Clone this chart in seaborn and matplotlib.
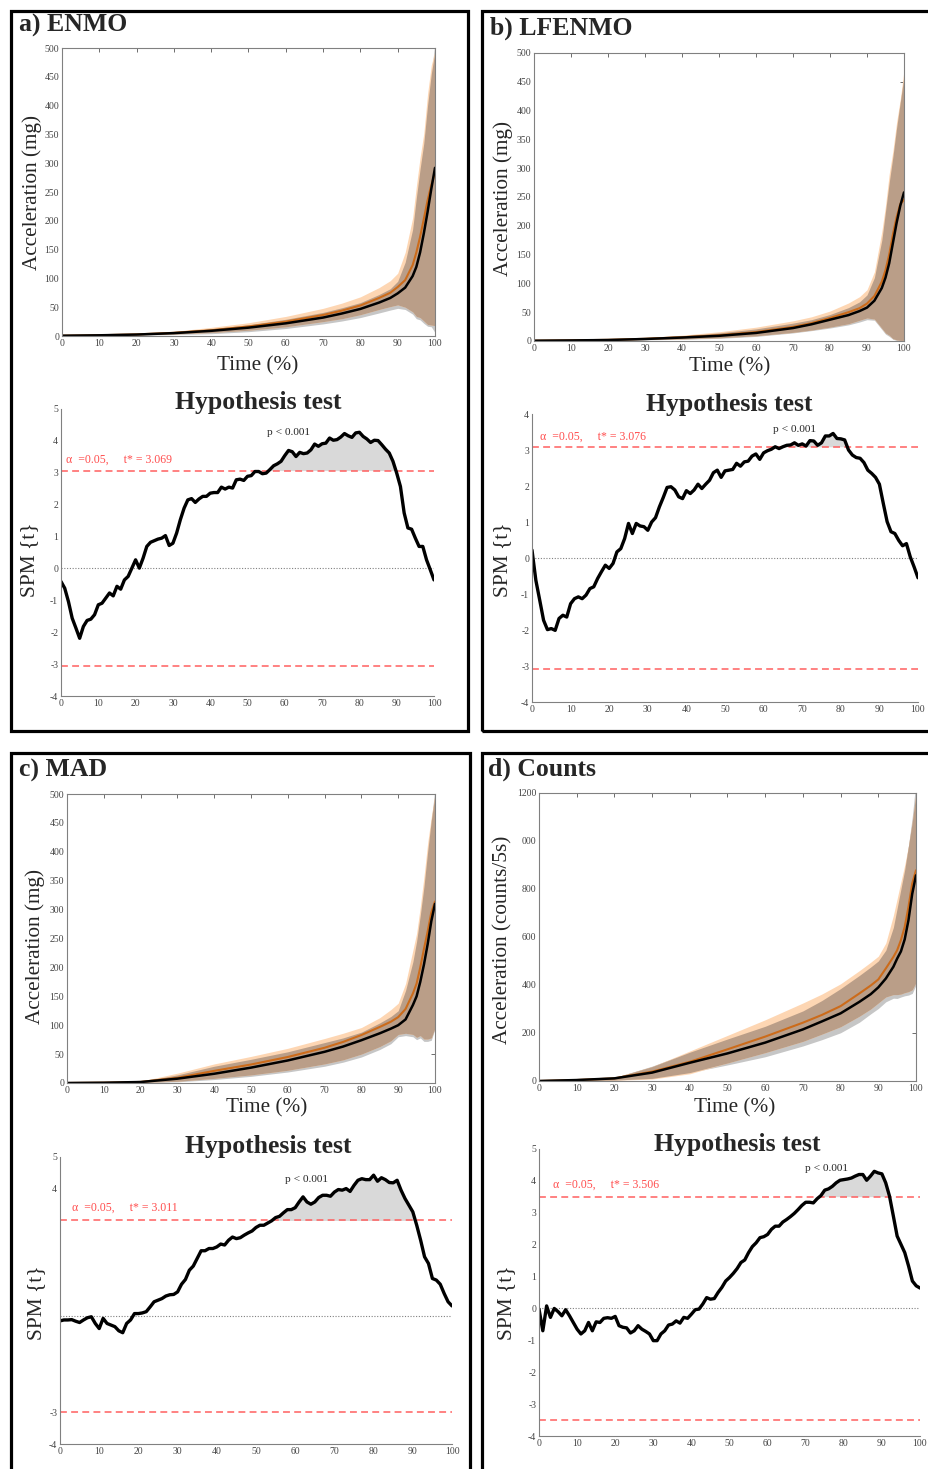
import numpy as np
import matplotlib
matplotlib.use('Agg')
import matplotlib.pyplot as plt
from matplotlib.patches import Rectangle
import seaborn as sns

# time grid used for the mean +/- band curves (% of bout)
time_top = [0, 10, 20, 30, 40, 50, 60, 70, 75, 80, 85, 88, 90, 92, 94, 95, 96, 97, 98, 99, 100]
time_spm = list(range(101))

# a) ENMO (mg)
enmo_black = [0.5, 1.2, 2.5, 5, 9, 14.5, 22, 32, 39, 47, 58, 66, 74, 84, 104, 120, 145, 178, 215, 255, 292]
enmo_black_lo = [0.2, 0.6, 1.5, 2.5, 4, 7.5, 13, 21, 26, 32, 40, 45, 48, 46, 38, 30, 28, 22, 17, 16, 6]
enmo_black_hi = [0.8, 1.8, 3.5, 7, 12.5, 19.5, 29, 41, 49, 58, 72, 82, 95, 128, 185, 240, 290, 335, 400, 455, 510]
enmo_orange = [0.5, 1.3, 2.8, 5.5, 10, 16.5, 25, 36.5, 44, 53, 66, 75, 85, 97, 123, 145, 172, 203, 235, 262, 283]
enmo_orange_lo = [0.3, 0.8, 2, 3.5, 6, 10, 16, 25, 30, 37, 46, 51, 54, 50, 42, 34, 32, 26, 20, 19, 18]
enmo_orange_hi = [1, 2, 4, 8, 15, 23, 34, 48, 57, 68, 84, 96, 109, 145, 205, 260, 310, 352, 420, 470, 495]

# b) LFENMO (mg)
lfenmo_black = [0.5, 1, 1.7, 3.5, 6, 9, 14, 22.5, 29, 37, 45, 52, 58, 70, 92, 110, 135, 170, 205, 235, 258]
lfenmo_black_lo = [0.2, 0.5, 1, 2, 3, 4.6, 8, 14, 18, 22.5, 28, 33, 37, 36, 20, 12, 8, 3, 1, 1, 1]
lfenmo_black_hi = [0.8, 1.5, 2.7, 5.5, 9, 14, 21, 31, 37, 46, 58, 68, 80, 110, 175, 225, 275, 320, 370, 415, 460]
lfenmo_orange = [0.5, 1.1, 2, 3.8, 6.5, 10, 15.5, 24.5, 31, 40, 50, 57, 65, 78, 103, 123, 150, 185, 215, 238, 245]
lfenmo_orange_lo = [0.3, 0.6, 1.2, 2.5, 3.5, 5.5, 9, 15, 19, 24, 30, 36, 40, 38, 22, 14, 10, 4, 2, 1, 1]
lfenmo_orange_hi = [1, 1.8, 3, 6, 10, 16, 24, 35, 42, 52, 66, 77, 89, 120, 190, 235, 290, 330, 380, 420, 470]

# c) MAD (mg)
mad_black = [0, 0.5, 1.7, 7.5, 16, 26.6, 39, 54, 63, 74, 86, 94, 100, 110, 135, 150, 175, 205, 240, 280, 310]
mad_black_lo = [0, 0.2, 0.8, 2, 6, 11.5, 19, 29, 36, 45, 58, 68, 80, 82, 80, 75, 78, 72, 72, 74, 94]
mad_black_hi = [0.2, 0.6, 2.5, 14, 29, 41, 54, 70, 78, 88, 104, 115, 125, 160, 210, 245, 290, 340, 400, 455, 510]
mad_orange = [0, 0.5, 1.8, 9, 21, 32, 45, 61, 71, 83, 97, 106, 114, 128, 155, 172, 200, 232, 262, 295, 314]
mad_orange_lo = [0, 0.3, 1, 3, 8, 14, 22, 33, 40, 50, 63, 73, 84, 86, 84, 79, 82, 76, 76, 78, 95]
mad_orange_hi = [0.3, 0.8, 3, 17, 33, 46, 60, 77, 86, 96, 113, 127, 138, 172, 230, 259, 305, 357, 415, 461, 500]

# d) Counts (counts/5s)
counts_black = [0, 4, 11, 35, 76, 115, 160, 215, 248, 282, 330, 362, 390, 427, 476, 510, 540, 590, 670, 780, 857]
counts_black_lo = [0, 1, 4, 11, 35, 67, 101, 146, 172, 201, 245, 280, 302, 330, 345, 344, 350, 355, 358, 365, 400]
counts_black_hi = [0, 5, 14, 62, 120, 175, 228, 292, 335, 385, 440, 475, 500, 545, 640, 720, 800, 880, 980, 1100, 1250]
counts_orange = [0, 4, 11, 39, 80, 132, 185, 243, 275, 312, 365, 398, 423, 469, 517, 545, 587, 642, 725, 823, 878]
counts_orange_lo = [0, 0.5, 3, 8, 30, 75, 118, 165, 195, 226, 270, 300, 325, 350, 360, 360, 362, 368, 372, 380, 410]
counts_orange_hi = [0, 5, 15, 60, 125, 190, 255, 325, 362, 405, 460, 495, 520, 575, 690, 760, 830, 900, 980, 1080, 1200]

# SPM{t} curves, one value per 1 % of time
enmo_spm = [-0.41, -0.62, -1.04, -1.56, -1.87, -2.19, -1.82, -1.63, -1.59, -1.45, -1.14,
            -1.09, -0.93, -0.77, -0.86, -0.56, -0.65, -0.36, -0.25, 0.01, 0.27,
            0.01, 0.32, 0.69, 0.82, 0.87, 0.92, 0.95, 1.03, 0.72, 0.79,
            1.11, 1.53, 1.89, 2.15, 2.19, 2.07, 2.18, 2.26, 2.26, 2.36,
            2.38, 2.38, 2.55, 2.49, 2.55, 2.52, 2.78, 2.80, 2.76, 2.89,
            2.91, 3.04, 3.04, 2.97, 2.99, 3.10, 3.22, 3.28, 3.36, 3.54,
            3.70, 3.66, 3.51, 3.64, 3.60, 3.62, 3.72, 3.90, 3.83, 3.91,
            3.93, 4.09, 4.02, 4.04, 4.12, 4.23, 4.16, 4.11, 4.25, 4.27,
            4.14, 4.06, 3.95, 4.02, 4.01, 3.88, 3.74, 3.62, 3.36, 2.99,
            2.57, 1.74, 1.27, 1.23, 0.95, 0.69, 0.69, 0.27, -0.04, -0.36]
lfenmo_spm = [0.22, -0.62, -1.17, -1.73, -1.99, -1.96, -2.01, -1.68, -1.59, -1.64, -1.27,
              -1.13, -1.08, -1.13, -1.03, -0.85, -0.80, -0.57, -0.38, -0.20, -0.29,
              -0.15, 0.17, 0.26, 0.54, 0.96, 0.68, 0.96, 0.89, 0.87, 0.77,
              1.00, 1.12, 1.42, 1.68, 1.96, 1.98, 1.89, 1.70, 1.65, 1.87,
              1.79, 1.89, 2.05, 1.93, 2.05, 2.16, 2.37, 2.44, 2.24, 2.42,
              2.44, 2.46, 2.63, 2.55, 2.67, 2.69, 2.83, 2.89, 2.74, 2.92,
              2.98, 3.02, 3.09, 3.04, 3.09, 3.13, 3.14, 3.20, 3.13, 3.17,
              3.11, 3.26, 3.25, 3.13, 3.20, 3.39, 3.39, 3.46, 3.32, 3.31,
              3.28, 3.00, 2.86, 2.79, 2.77, 2.65, 2.44, 2.35, 2.24, 2.05,
              1.52, 1.01, 0.73, 0.68, 0.49, 0.34, 0.40, 0.03, -0.25, -0.55]
mad_spm = [-0.14, -0.11, -0.11, -0.10, -0.15, -0.19, -0.11, -0.04, -0.01, -0.22, -0.38,
           -0.06, -0.22, -0.27, -0.32, -0.45, -0.51, -0.22, -0.11, 0.09, 0.09,
           0.11, 0.15, 0.30, 0.46, 0.51, 0.56, 0.64, 0.68, 0.69, 0.77,
           1.01, 1.16, 1.45, 1.58, 1.82, 2.06, 2.06, 2.13, 2.13, 2.18,
           2.27, 2.24, 2.39, 2.49, 2.44, 2.47, 2.55, 2.62, 2.68, 2.79,
           2.86, 2.86, 2.93, 3.00, 3.10, 3.14, 3.25, 3.35, 3.35, 3.41,
           3.59, 3.75, 3.59, 3.52, 3.59, 3.73, 3.80, 3.80, 3.77, 3.90,
           3.98, 3.96, 4.01, 3.92, 4.11, 4.27, 4.32, 4.29, 4.29, 4.43,
           4.24, 4.35, 4.29, 4.20, 4.19, 4.27, 3.96, 3.70, 3.49, 3.28,
           2.86, 2.39, 1.87, 1.66, 1.19, 1.14, 1.01, 0.72, 0.46, 0.33]
counts_spm = [-0.02, -0.70, 0.08, -0.28, 0.00, -0.10, -0.23, -0.04, -0.23, -0.44, -0.65,
              -0.80, -0.70, -0.44, -0.70, -0.42, -0.44, -0.31, -0.29, -0.31, -0.25,
              -0.54, -0.59, -0.61, -0.77, -0.70, -0.54, -0.65, -0.72, -0.80, -1.01,
              -1.01, -0.80, -0.70, -0.52, -0.49, -0.39, -0.46, -0.28, -0.31, -0.18,
              -0.04, -0.02, 0.14, 0.34, 0.29, 0.31, 0.50, 0.66, 0.86, 0.97,
              1.10, 1.25, 1.44, 1.52, 1.75, 1.94, 2.06, 2.22, 2.25, 2.32,
              2.48, 2.58, 2.58, 2.71, 2.79, 2.88, 2.98, 3.10, 3.23, 3.33,
              3.33, 3.31, 3.44, 3.54, 3.71, 3.75, 3.83, 3.94, 4.02, 4.04,
              4.06, 4.09, 4.15, 4.20, 4.20, 4.02, 4.15, 4.30, 4.25, 4.22,
              3.94, 3.52, 2.90, 2.27, 2.01, 1.75, 1.33, 0.86, 0.71, 0.64]

thresholds = [3.069, 3.076, 3.011, 3.506]
panel_titles = ['a) ENMO', 'b) LFENMO', 'c) MAD', 'd) Counts']
acc_labels = ['Acceleration (mg)', 'Acceleration (mg)', 'Acceleration (mg)', 'Acceleration (counts/5s)']
counts_ytick_labels = ['0', '200', '400', '600', '800', '000', '1200']
mad_spm_ytick_labels = ['-4', '-3', '', '', '', '', '', '', '4', '5']

W, H = 929, 1469
GRAY_BAND = '#C6C6C6'
PEACH = '#FDD6B3'
BROWN = '#BA9E88'
ORANGE = '#CC6B1A'
TICK_GRAY = '#555555'
LABEL_SIZE = 15.3
TITLE_SIZE = 18.5


def fx(x):
    return x / W


def fy(y):
    return 1 - y / H


def add_axes(fig, x0, y0, x1, y1):
    return fig.add_axes([fx(x0), fy(y1), (x1 - x0) / W, (y1 - y0) / H])


def style_ticks(ax, box):
    for side in ['left', 'bottom', 'top', 'right']:
        ax.spines[side].set_color('#808080')
        ax.spines[side].set_linewidth(0.8)
    if not box:
        sns.despine(ax=ax)
    ax.tick_params(direction='in', length=3, width=0.6, color=TICK_GRAY,
                   labelsize=7, labelcolor='#444444', pad=2,
                   top=box, right=box)
    ax.set_xlim(0, 100)
    ax.set_xticks(range(0, 101, 10))


def draw_top(ax, black, black_lo, black_hi, orange, orange_lo, orange_hi, ymax, ystep):
    x = np.array(time_top)
    black_lo, black_hi = np.array(black_lo), np.array(black_hi)
    orange_lo, orange_hi = np.array(orange_lo), np.array(orange_hi)
    ax.fill_between(x, black_lo, black_hi, color=GRAY_BAND, lw=0)
    ax.fill_between(x, orange_lo, orange_hi, color=PEACH, lw=0)
    lo = np.maximum(black_lo, orange_lo)
    hi = np.minimum(black_hi, orange_hi)
    ax.fill_between(x, lo, hi, where=hi > lo, interpolate=True, color=BROWN, lw=0)
    sns.lineplot(x=x, y=orange, ax=ax, color=ORANGE, lw=1.5)
    sns.lineplot(x=x, y=black, ax=ax, color='k', lw=1.8)
    ax.set_ylim(0, ymax)
    ax.set_yticks(np.arange(0, ymax + 1, ystep))
    style_ticks(ax, box=True)


def draw_spm(ax, t, thr, ymax, alpha_xy, p_xy):
    x = np.array(time_spm)
    t = np.array(t)
    ax.fill_between(x, thr, t, where=t > thr, interpolate=True, color='#D9D9D9', lw=0)
    ax.axhline(0, color='#808080', ls=(0, (1, 1.5)), lw=0.8)
    for level in [thr, -thr]:
        ax.axhline(level, color='#FF5F5F', ls=(0, (4.5, 2.8)), lw=1.1)
    sns.lineplot(x=x, y=t, ax=ax, color='k', lw=2.4)
    ax.text(alpha_xy[0], alpha_xy[1], '\u03b1  =0.05,     t* = %.3f' % thr,
            color='#FF4D4D', fontsize=8.5, va='center')
    ax.text(p_xy[0], p_xy[1], 'p < 0.001', fontsize=8.2, ha='center', va='center')
    ax.set_ylim(-4, ymax)
    ax.set_yticks(range(-4, ymax + 1))
    style_ticks(ax, box=False)


def label_axes(fig, ax, xlabel, xl_pos, ylabel, yl_pos):
    if xlabel:
        ax.set_xlabel(xlabel, fontsize=LABEL_SIZE, va='center')
        ax.xaxis.set_label_coords(fx(xl_pos[0]), fy(xl_pos[1]), transform=fig.transFigure)
    else:
        ax.set_xlabel('')
    ax.set_ylabel(ylabel, fontsize=LABEL_SIZE, va='center')
    ax.yaxis.set_label_coords(fx(yl_pos[0]), fy(yl_pos[1]), transform=fig.transFigure)


def bold_text(fig, x, y, s, ha):
    fig.text(fx(x), fy(y), s, fontsize=TITLE_SIZE, fontweight='bold', ha=ha, va='center')


sns.set_style('white')
plt.rcParams['font.family'] = ['Liberation Serif', 'DejaVu Serif']
plt.rcParams['axes.unicode_minus'] = False

fig = plt.figure(figsize=(W / 100, H / 100), dpi=100)

# panel frames
for x0, y0, x1, y1 in [(11, 11, 468, 731), (482, 11, 940, 731),
                       (11, 753, 470, 1480), (482, 753, 940, 1480)]:
    fig.add_artist(Rectangle((fx(x0), fy(y1)), (x1 - x0) / W, (y1 - y0) / H,
                             transform=fig.transFigure, fill=False, ec='k', lw=2.3))

# a) ENMO
ax = add_axes(fig, 62, 48, 435, 336)
draw_top(ax, enmo_black, enmo_black_lo, enmo_black_hi, enmo_orange, enmo_orange_lo, enmo_orange_hi, 500, 50)
label_axes(fig, ax, 'Time (%)', (258, 366), acc_labels[0], (32, 192))
ax = add_axes(fig, 61, 409, 434, 696)
draw_spm(ax, enmo_spm, thresholds[0], 5, (1.3, 3.42), (61, 4.27))
label_axes(fig, ax, None, None, 'SPM {t}', (30, 560))
bold_text(fig, 258, 403, 'Hypothesis test', 'center')
bold_text(fig, 19, 25, panel_titles[0], 'left')

# b) LFENMO
ax = add_axes(fig, 534, 53, 904, 341)
draw_top(ax, lfenmo_black, lfenmo_black_lo, lfenmo_black_hi, lfenmo_orange, lfenmo_orange_lo, lfenmo_orange_hi, 500, 50)
label_axes(fig, ax, 'Time (%)', (730, 367), acc_labels[1], (503, 198))
ax = add_axes(fig, 532, 414, 918, 702)
draw_spm(ax, lfenmo_spm, thresholds[1], 4, (2.2, 3.37), (68, 3.57))
label_axes(fig, ax, None, None, 'SPM {t}', (503, 560))
bold_text(fig, 729, 405, 'Hypothesis test', 'center')
bold_text(fig, 490, 28, panel_titles[1], 'left')

# c) MAD
ax = add_axes(fig, 67, 794, 435, 1083)
draw_top(ax, mad_black, mad_black_lo, mad_black_hi, mad_orange, mad_orange_lo, mad_orange_hi, 500, 50)
label_axes(fig, ax, 'Time (%)', (267, 1108), acc_labels[2], (35, 947))
ax = add_axes(fig, 60, 1157, 452, 1444)
draw_spm(ax, mad_spm, thresholds[2], 5, (3.0, 3.41), (63, 4.31))
ax.set_yticklabels(mad_spm_ytick_labels)
label_axes(fig, ax, None, None, 'SPM {t}', (37, 1303))
bold_text(fig, 268, 1146, 'Hypothesis test', 'center')
bold_text(fig, 19, 770, panel_titles[2], 'left')

# d) Counts
ax = add_axes(fig, 539, 793, 916, 1081)
draw_top(ax, counts_black, counts_black_lo, counts_black_hi, counts_orange, counts_orange_lo, counts_orange_hi, 1200, 200)
ax.set_yticklabels(counts_ytick_labels)
label_axes(fig, ax, 'Time (%)', (735, 1108), acc_labels[3], (503, 940))
ax = add_axes(fig, 539, 1149, 920, 1436)
draw_spm(ax, counts_spm, thresholds[3], 5, (3.8, 3.88), (75.5, 4.40))
label_axes(fig, ax, None, None, 'SPM {t}', (507, 1303))
bold_text(fig, 737, 1145, 'Hypothesis test', 'center')
bold_text(fig, 488, 769, panel_titles[3], 'left')

fig.savefig('out.png', dpi=100)
plt.close(fig)
